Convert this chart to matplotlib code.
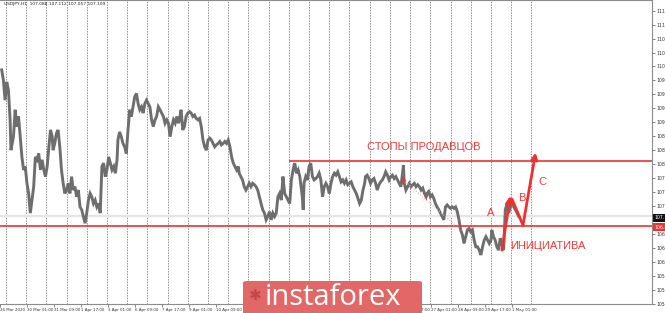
import matplotlib
matplotlib.use('Agg')
import matplotlib.pyplot as plt
from matplotlib.patches import FancyBboxPatch
from matplotlib.transforms import blended_transform_factory

# USDJPY H1, x = hourly bar counted from 27 Mar 2020 00:00
bars_a = [-5, -3, -1, 1, 3, 5, 6, 9, 11, 13, 15, 17, 19, 21, 23, 25, 27, 29, 31, 33,
          35, 37, 39, 41, 43, 45, 47, 49, 51, 53, 55, 56, 58, 60, 62, 64, 66, 68, 70, 72,
          74, 76, 78, 80, 82, 84, 86, 88, 90, 92, 94, 96, 98, 100, 102, 104, 106, 108, 110, 112,
          114, 116, 118, 120, 122, 124, 126, 128, 130, 132, 133, 135, 137, 139, 141, 143, 145, 147, 149, 151,
          153, 155, 157, 159, 161, 163, 165, 167, 169, 171, 173, 175, 177, 179, 181, 183, 185, 187, 189, 191,
          193, 195, 197, 199, 201, 203, 205, 206, 208, 210, 212, 214, 216, 218, 220, 222, 224, 226, 228, 230,
          232, 234, 236, 238, 240, 242, 244, 246, 248, 250, 252, 254, 256, 258, 260, 262, 264, 266, 268, 270,
          272, 274, 276, 277, 279, 281, 283, 285, 287, 289, 291, 293, 295, 297, 299, 301, 303, 305, 307, 309,
          311, 313, 315, 317, 319, 321, 323, 325, 327, 329, 331, 333, 335, 337]
price_a = [110.13, 109.92, 109.50, 109.88, 109.71, 109.09, 108.46, 108.74, 109.30, 108.95,
           109.16, 108.74, 108.32, 108.05, 108.12, 107.77, 107.56, 107.15, 107.42, 107.70,
           108.32, 108.26, 108.39, 108.05, 108.26, 108.05, 107.91, 108.12, 108.53, 108.88,
           108.74, 108.46, 108.60, 108.81, 108.88, 108.53, 108.05, 107.77, 107.56, 107.63,
           107.77, 107.56, 107.91, 107.63, 107.70, 107.49, 107.63, 107.28, 107.22, 107.08,
           106.94, 107.15, 107.42, 107.56, 107.49, 107.35, 107.42, 107.28, 107.35, 107.15,
           108.12, 108.19, 107.91, 108.05, 108.32, 108.19, 108.05, 108.12, 107.98, 108.26,
           108.67, 108.84, 108.74, 108.60, 108.53, 108.39, 108.88, 109.30, 109.16, 109.36,
           109.57, 109.64, 109.43, 109.30, 109.36, 109.23, 109.43, 109.50, 109.43, 109.36,
           109.09, 108.95, 109.09, 109.16, 109.36, 109.30, 109.23, 109.16, 109.02, 109.09,
           109.02, 108.74, 108.95, 109.09, 109.02, 109.16, 109.02, 109.09, 109.30, 108.88,
           108.95, 109.16, 109.23, 109.26, 109.23, 109.16, 109.19, 109.12, 109.09, 109.12,
           108.95, 108.67, 108.53, 108.46, 108.67, 108.71, 108.67, 108.60, 108.53, 108.57,
           108.60, 108.64, 108.57, 108.60, 108.64, 108.60, 108.67, 108.53, 108.32, 108.19,
           108.12, 108.05, 108.12, 107.98, 107.91, 107.84, 107.70, 107.63, 107.70, 107.77,
           107.70, 107.77, 107.74, 107.70, 107.63, 107.49, 107.35, 107.22, 107.15, 107.01,
           107.08, 107.18, 107.01, 107.15, 107.08, 107.15, 107.49, 107.56, 107.42, 107.91,
           107.56, 107.49, 107.42, 107.35]

bars_b = [339, 341, 343, 345, 347, 349, 350, 352, 353, 354, 356, 358, 360, 362, 364, 366, 368, 370, 372, 374,
          376, 378, 380, 382, 384, 386, 388, 390, 392, 394, 396, 398, 400, 402, 404, 406, 408, 410, 412, 414,
          416, 418, 420, 422, 424, 426, 427, 429, 431, 433, 435, 437, 439, 441, 443, 445, 447, 449, 451, 453,
          455, 457, 459, 461, 463, 465, 467, 469, 471, 472, 473, 475, 477, 479, 481, 483, 485, 487, 489, 491,
          493, 495, 497, 499, 500, 502, 504, 506, 508, 510, 512, 514, 516, 518, 520, 522, 524, 526, 528, 530,
          532, 534, 536, 538, 540]
price_b = [107.84, 108.05, 108.19, 107.98, 108.05, 107.91, 107.77, 107.49, 107.22, 107.77,
           107.91, 107.84, 108.12, 108.19, 107.91, 107.84, 107.87, 107.91, 107.98, 107.84,
           107.49, 107.70, 107.77, 107.70, 107.56, 107.77, 107.91, 107.98, 107.94, 108.01,
           107.91, 107.80, 107.84, 107.77, 107.84, 107.74, 107.77, 107.80, 107.70, 107.63,
           107.56, 107.46, 107.35, 107.42, 107.63, 107.77, 107.91, 107.94, 107.87, 107.77,
           107.84, 107.87, 107.77, 107.63, 107.74, 107.80, 107.84, 107.91, 108.01, 107.94,
           107.84, 107.91, 107.94, 107.87, 107.91, 107.84, 107.77, 107.70, 107.98, 108.15,
           107.77, 107.63, 107.70, 107.77, 107.70, 107.74, 107.77, 107.70, 107.74, 107.70,
           107.63, 107.67, 107.56, 107.49, 107.56, 107.60, 107.49, 107.53, 107.46, 107.35,
           107.28, 107.22, 107.15, 107.08, 107.01, 107.28, 107.32, 107.28, 107.25, 107.28,
           107.25, 107.28, 107.18, 107.01, 106.80]

bars_c = [542, 544, 546, 548, 550, 552, 554, 556, 558, 560, 562, 564, 566, 568, 570, 572, 574, 576,
          577, 579, 581, 583, 585, 587, 589, 591, 593, 595, 597, 599, 601, 603, 605, 607, 609]
price_c = [106.70, 106.52, 106.66, 106.80, 106.83, 106.76, 106.80, 106.59, 106.45, 106.45,
           106.38, 106.28, 106.45, 106.59, 106.66, 106.59, 106.52, 106.59, 106.80, 106.66,
           106.59, 106.45, 106.38, 106.63, 106.49, 106.38, 107.22, 107.35, 107.15, 107.28,
           107.42, 107.28, 107.22, 107.15, 107.08]

# labels fully under the banner are left out, the edge ones peek out
date_ticks = [-7, 25, 57, 89, 121, 153, 185, 217, 249, 281, 473, 505, 537, 569, 601]
date_labels = ['26 Mar 2020', '30 Mar 01:00', '31 Mar 09:00', '1 Apr 17:00', '3 Apr 01:00',
               '6 Apr 09:00', '7 Apr 17:00', '9 Apr 01:00', '10 Apr 09:00', '13 Apr 17:00',
               '23 Apr 17:00', '27 Apr 01:00', '28 Apr 09:00', '29 Apr 17:00', '1 May 01:00']
day_starts = [0, 24, 48, 72, 96, 120, 144, 168, 192, 216, 240, 264, 288, 312, 336,
              360, 384, 408, 432, 456, 480, 504, 528, 552, 576, 600, 624]
price_ticks = [111.36, 111.07, 110.78, 110.49, 110.20, 109.91, 109.62, 109.33, 109.04,
               108.75, 108.46, 108.17, 107.88, 107.59, 107.30, 107.01, 106.72, 106.43,
               106.14, 105.85, 105.56, 105.27]
hidden_tick = 107.01  # sits under the current price box

stops_level = 108.24
stops_start = 336
init_level = 106.88
bid_level = 107.09
trend_bars = [472, 538]
trend_prices = [107.84, 106.83]
arrow1_bars = [589, 599]
arrow1_prices = [106.38, 107.51]
arrow2_bars = [601, 614, 629]
arrow2_prices = [107.44, 106.90, 108.41]

RED = '#f03030'
TXT_RED = '#ee3a3a'

fig = plt.figure(figsize=(6.65, 3.13), dpi=100)
ax = fig.add_axes([0, 9 / 313, 652 / 665, 304 / 313])
ax.set_xlim(-4.74, 767.2)
ax.set_ylim(105.26, 111.583)

for d in day_starts:
    ax.axvline(d, color='#707070', lw=0.6, ls=(0, (1.6, 1.6)), zorder=1)

ax.axhline(bid_level, color='#e4e4e4', lw=1.6, zorder=1)
ax.axhline(init_level, color=RED, lw=1.2, zorder=4)
ax.hlines(stops_level, stops_start, 767.2, color=RED, lw=1.2, zorder=4)

ax.plot(bars_a + bars_b + bars_c, price_a + price_b + price_c,
        color='#6e6e6e', lw=2.1, solid_joinstyle='miter', zorder=3)

ax.plot(trend_bars, trend_prices, color='#f4a6a6', lw=0.8, ls=(0, (1, 1.5)), zorder=3)
ax.plot(trend_bars[0], trend_prices[0], 'o', ms=2, color=RED, zorder=4)

# arrows
ax.annotate('', xy=(arrow1_bars[1], arrow1_prices[1]), xytext=(arrow1_bars[0], arrow1_prices[0]),
            arrowprops=dict(arrowstyle='-|>', color=RED, lw=2, mutation_scale=9,
                            shrinkA=0, shrinkB=0), zorder=5)
ax.plot(arrow2_bars[:2], arrow2_prices[:2], color=RED, lw=2, solid_capstyle='round', zorder=5)
ax.annotate('', xy=(arrow2_bars[2], arrow2_prices[2]), xytext=(arrow2_bars[1], arrow2_prices[1]),
            arrowprops=dict(arrowstyle='-|>', color=RED, lw=2, mutation_scale=9,
                            shrinkA=0, shrinkB=0), zorder=5)

txt = dict(color=TXT_RED, fontsize=8, family='Liberation Sans', va='center', zorder=6)
ax.text(429, 108.525, 'СТОПЫ ПРОДАВЦОВ', ha='left', **txt)
ax.text(599, 106.47, 'ИНИЦИАТИВА', ha='left', **txt)
ax.text(576, 107.16, 'A', ha='center', **txt)
ax.text(613, 107.46, 'B', ha='center', **txt)
ax.text(637, 107.80, 'C', ha='center', **txt)

# axes look like the terminal window
ax.spines['left'].set_visible(False)
for s in ['top', 'right', 'bottom']:
    ax.spines[s].set_color('#8c8c8c')
    ax.spines[s].set_linewidth(0.8)

ax.yaxis.tick_right()
ax.set_yticks(price_ticks)
ax.set_yticklabels(['' if p == hidden_tick else '%.2f' % p for p in price_ticks])
ax.tick_params(axis='y', length=2, width=0.5, color='#555555', labelsize=3.3,
               labelcolor='#333333', pad=1.5)
ax.set_xticks(date_ticks)
ax.set_xticklabels(date_labels)
for lab in ax.get_xticklabels():
    lab.set_horizontalalignment('left')
ax.tick_params(axis='x', length=2, width=0.5, color='#555555', labelsize=2.9,
               labelcolor='#333333', pad=1)

tr = blended_transform_factory(ax.transAxes, ax.transData)
ax.text(1.003, bid_level - 0.04, '107.11', transform=tr, fontsize=3.3, color='white',
        va='center', ha='left', clip_on=False,
        bbox=dict(boxstyle='square,pad=0.25', fc='#111111', ec='none'))
ax.text(1.003, init_level - 0.02, '%.2f' % init_level, transform=tr, fontsize=3.3, color='white',
        va='center', ha='left', clip_on=False,
        bbox=dict(boxstyle='square,pad=0.25', fc=RED, ec='none'))

fig.text(4 / 665, 1 - 4 / 313, 'USDJPY,H1  107.088 107.112 107.057 107.109', fontsize=3.2,
         color='#222222', va='center', ha='left')

# instaforex banner
banner = FancyBboxPatch((243 / 665, -0.02), 179 / 665, 0.02 + 32 / 313,
                        boxstyle='round,pad=0,rounding_size=0.006',
                        transform=fig.transFigure, fc='#e26868', ec='none', zorder=10)
fig.patches.append(banner)
fig.text(255 / 665, 1 - 296 / 313, '\u2731', fontsize=11, color='#c24848', ha='center',
         va='center', zorder=11, family='DejaVu Sans')
fig.text(265 / 665, 1 - 305 / 313, 'instaforex', fontsize=21, color='white', ha='left',
         va='baseline', family='Open Sans', zorder=11)

fig.savefig('out.png', dpi=100)
